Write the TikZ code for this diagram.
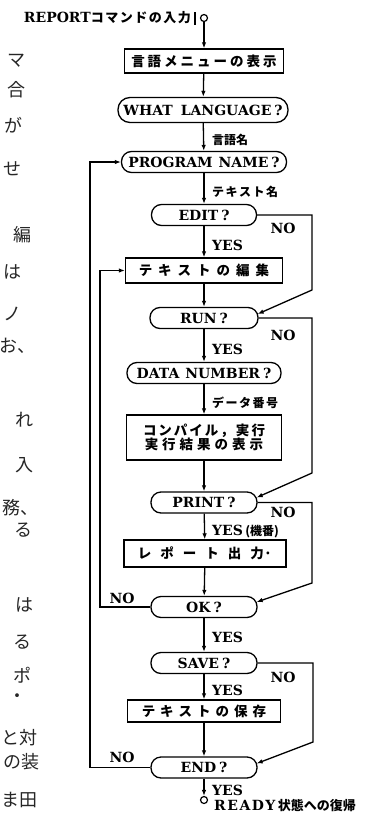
\documentclass[tikz,border=0pt]{standalone}
\usepackage{fontspec}
\usetikzlibrary{arrows.meta}
\newfontfamily\en{DejaVu Serif}
\newfontfamily\jp{Noto Sans CJK JP}
\newcommand\ENB{\en\bfseries\fontsize{14}{16}\selectfont}
\newcommand\JPB[1]{\jp\bfseries\fontsize{#1}{15}\selectfont}
\newcommand\HAND{\jp\fontsize{18}{18}\selectfont}
\makeatletter
\newcommand\spaced[2]{\def\sp@gap{#1}\@tfor\sp@c:=#2\do{\sp@c\hskip\sp@gap\relax}\unskip}
\makeatother
\begin{document}
\begin{tikzpicture}[x=1pt,y=-1pt,
  box/.style={draw,line width=1.3pt,inner sep=0pt,align=center},
  oval/.style={draw,line width=1.3pt,inner sep=0pt,rounded corners=10pt,minimum height=21pt,font=\ENB},
  lbl/.style={inner sep=0pt,anchor=west},
  ln/.style={line width=1.3pt},
  flow/.style={line width=1.3pt,-{Latex[length=6pt,width=4.5pt]}},
  dot/.style={circle,draw,line width=1.2pt,inner sep=0pt,minimum size=7pt},
  hand/.style={inner sep=0pt,font=\HAND,text=black!85}]
\useasboundingbox (0,0) rectangle (371,817);

% handwritten margin notes
\node[hand] (h1) at (17,61) {マ};
\node[hand] (h2) at (17,90) {合};
\node[hand] (h3) at (14,125) {が};
\node[hand] (h4) at (13,169) {せ};
\node[hand] (h5) at (22,235) {編};
\node[hand] (h6) at (13,272) {は};
\node[hand] (h7) at (12,314) {ノ};
\node[hand] (h8) at (17,346) {お、};
\node[hand] (h9) at (25,420) {れ};
\node[hand] (h10) at (25,465) {入};
\node[hand] (h11) at (20,508) {務、};
\node[hand] (h12) at (23,530) {る};
\node[hand] (h13) at (25,605) {は};
\node[hand] (h14) at (22,642) {る};
\node[hand] (h15) at (22,675) {ポ};
\node[hand] (h16) at (18,698) {・};
\node[hand,anchor=east] (h17) at (38,738) {と対};
\node[hand,anchor=east] (h18) at (40,762) {の装};
\node[hand,anchor=east] (h19) at (38,800) {ま田};

% start
\node[dot] (st) at (204,18) {};
\node[anchor=east,inner sep=0pt,font=\ENB] (rep) at (191,18) {REPORT{\JPB{13}\spaced{1.5pt}{コマンドの入力}}};
\draw[ln] (195,12) -- (195,25);

% main column
\node[box,minimum width=159pt,minimum height=24pt] (menu) at (204,61) {\JPB{13.5}\spaced{3pt}{言語メニューの表示}};
\node[oval,minimum width=170pt,minimum height=25pt,rounded corners=12pt] (wl) at (203,110) {WHAT\hspace{8pt}LANGUAGE\hspace{3pt}?};
\node[oval,minimum width=165pt] (pn) at (204,162) {PROGRAM\hspace{6pt}NAME\hspace{3pt}?};
\node[oval,minimum width=105pt] (ed) at (204,215) {EDIT\hspace{3pt}?};
\node[box,minimum width=157pt,minimum height=25pt] (eb) at (204,270.5) {\JPB{13.5}\spaced{6pt}{テキストの編集}};
\node[oval,minimum width=108pt] (run) at (204,318) {RUN\hspace{3pt}?};
\node[oval,minimum width=154pt] (dn) at (204,373) {DATA\hspace{6pt}NUMBER\hspace{3pt}?};
\node[box,minimum width=155pt,minimum height=45pt] (cp) at (204,437.5) {\JPB{13.5}\spaced{2pt}{コンパイル，実行}\\\JPB{13.5}\spaced{4pt}{実行結果の表示}};
\node[oval,minimum width=106pt] (pr) at (204,502.5) {PRINT\hspace{3pt}?};
\node[box,minimum width=162pt,minimum height=27pt] (rp) at (205,553.5) {\JPB{13.5}\spaced{9pt}{レポート出力}·};
\node[oval,minimum width=106pt] (ok) at (204,607) {OK\hspace{3pt}?};
\node[oval,minimum width=106pt] (sv) at (204,663) {SAVE\hspace{3pt}?};
\node[box,minimum width=153pt,minimum height=22pt] (sb) at (204,711) {\JPB{13.5}\spaced{5pt}{テキストの保存}};
\node[oval,minimum width=106pt] (en) at (204,767.5) {END\hspace{3pt}?};
\node[dot] (fin) at (204,800) {};

% labels
\node[lbl,font=\JPB{12}] (t1) at (212,140) {言語名};
\node[lbl,font=\JPB{12}] (t2) at (212,192) {\spaced{1.5pt}{テキスト名}};
\node[lbl,font=\ENB] (y1) at (212,245) {YES};
\node[inner sep=0pt,font=\ENB] (n1) at (283,228) {NO};
\node[lbl,font=\ENB] (y2) at (212,349) {YES};
\node[inner sep=0pt,font=\ENB] (n2) at (283,335) {NO};
\node[lbl,font=\JPB{12}] (t3) at (212,403) {\spaced{1.5pt}{データ番号}};
\node[lbl,font=\ENB] (y3) at (212,532) {YES\,{\JPB{12}(機番)}};
\node[inner sep=0pt,font=\ENB] (n3) at (283,512) {NO};
\node[lbl,font=\ENB] (y4) at (212,637) {YES};
\node[inner sep=0pt,font=\ENB] (n4) at (122,598) {NO};
\node[lbl,font=\ENB] (y5) at (212,690) {YES};
\node[inner sep=0pt,font=\ENB] (n5) at (283,677) {NO};
\node[lbl,font=\ENB] (y6) at (212,790) {YES};
\node[inner sep=0pt,font=\ENB] (n6) at (122,757) {NO};
\node[lbl,font=\ENB] (ready) at (214,806) {\spaced{1.5pt}{READY}\,{\JPB{13}状態への復帰}};

% main flow
\draw[flow] (st) -- (menu);
\draw[flow] (menu) -- (wl);
\draw[flow] (wl) -- (pn);
\draw[flow] (pn) -- (ed);
\draw[flow] (ed) -- (eb);
\draw[flow] (eb) -- (run);
\draw[flow] (run) -- (dn);
\draw[flow] (dn) -- (cp);
\draw[flow] (cp) -- (pr);
\draw[flow] (pr) -- (rp);
\draw[flow] (rp) -- (ok);
\draw[flow] (ok) -- (sv);
\draw[flow] (sv) -- (sb);
\draw[flow] (sb) -- (en);
\draw[flow] (en) -- (fin);

% NO branches on the right
\coordinate (a1) at (312,290);
\coordinate (a2) at (312,473);
\coordinate (a3) at (312,583);
\coordinate (a4) at (313,742);
\draw[flow] (ed.east) -| (a1) -- ([yshift=4pt,xshift=-1pt]run.east);
\draw[flow] (run.east) -| (a2) -- ([yshift=5pt,xshift=-1pt]pr.east);
\draw[flow] (pr.east) -| (a3) -- ([yshift=5pt,xshift=-1pt]ok.east);
\draw[flow] (sv.east) -| (a4) -- ([yshift=4pt,xshift=-1pt]en.east);

% NO loops on the left
\coordinate (b1) at (90,162);
\coordinate (b2) at (100,270.5);
\draw[flow] (en.west) -| (b1) -- (pn.west);
\draw[flow] (ok.west) -| (b2) -- (eb.west);
\end{tikzpicture}
\end{document}
